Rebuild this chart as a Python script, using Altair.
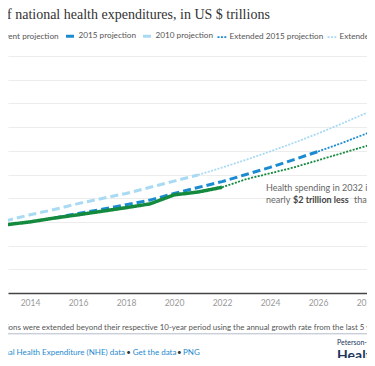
import altair as alt
import pandas as pd

# ---------------- data (US $ trillions) ----------------
series_names = ["Actual", "Current projection", "2015 projection", "2010 projection",
                "Extended 2015 projection", "Extended 2010 projection"]

actual_years = list(range(2010, 2023))
actual_values = [2.60, 2.68, 2.79, 2.88, 3.00, 3.16, 3.30, 3.45, 3.60, 3.76, 4.14, 4.26, 4.46]

current_years = list(range(2022, 2033))
current_values = [4.46, 4.80, 5.05, 5.30, 5.60, 5.90, 6.20, 6.50, 6.90, 7.30, 7.70]

p2015_years = list(range(2015, 2027))
p2015_values = [3.16, 3.36, 3.53, 3.72, 3.92, 4.20, 4.45, 4.70, 5.00, 5.30, 5.63, 5.97]

p2010_years = list(range(2010, 2022))
p2010_values = [2.59, 2.71, 2.85, 3.05, 3.30, 3.52, 3.77, 3.99, 4.20, 4.46, 4.72, 4.98]

ext2015_years = list(range(2026, 2033))
ext2015_values = [5.97, 6.33, 6.72, 7.14, 7.59, 8.06, 8.56]

ext2010_years = list(range(2021, 2033))
ext2010_values = [4.98, 5.29, 5.62, 5.97, 6.34, 6.73, 7.15, 7.59, 8.06, 8.56, 9.09, 9.65]

x_ticks = [2014, 2016, 2018, 2020, 2022, 2024, 2026, 2028]
y_ticks = list(range(0, 11))

title_text = "of national health expenditures, in US $ trillions"
note_text = ("Note: Projections were extended beyond their respective 10-year period using the "
             "annual growth rate from the last 5 years of each projection.")
annot_line1 = "Health spending in 2032 is"
annot_line2a = "nearly"
annot_line2b = "$2 trillion less"
annot_line2c = "than the extended 2010 projection."
source_link = "National Health Expenditure (NHE) data"
get_data = "Get the data"
png_text = "PNG"
bullet = "•"
logo_small = "Peterson-KFF"
logo_big = "Health System Tracker"

# ---------------- build table ----------------
parts = [
    ("Extended 2010 projection", ext2010_years, ext2010_values),
    ("Extended 2015 projection", ext2015_years, ext2015_values),
    ("2010 projection", p2010_years, p2010_values),
    ("2015 projection", p2015_years, p2015_values),
    ("Current projection", current_years, current_values),
    ("Actual", actual_years, actual_values),
]
rows = []
for name, ys, vs in parts:
    for yr, v in zip(ys, vs):
        rows.append({"series": name, "year": yr, "value": v})
df = pd.DataFrame(rows)

GREEN = "#138a3d"
BLUE = "#1a8bd1"
LIGHT = "#a9daf4"
colors = [GREEN, GREEN, BLUE, LIGHT, BLUE, LIGHT]
dashes = [[1, 0], [2, 1.4], [8, 4], [8, 4], [2, 1.4], [2, 1.4]]
widths = [3.5, 1.8, 3, 3, 1.8, 1.8]

LEG_X = -69.5
LEG_Y = -27

lines = alt.Chart(df).mark_line(strokeCap="butt", strokeJoin="round").encode(
    x=alt.X("year:Q",
            scale=alt.Scale(domain=[2013.0833, 2028.0417], nice=False, zero=False),
            axis=alt.Axis(values=x_ticks, format="d", title=None, grid=False, ticks=False,
                          domainColor="#444", domainWidth=1.5, labelFont="Lato",
                          labelFontSize=8.5, labelColor="#999", labelPadding=5,
                          labelFlush=False)),
    y=alt.Y("value:Q",
            scale=alt.Scale(domain=[0, 10], nice=False),
            axis=alt.Axis(values=y_ticks, title=None, grid=True, gridColor="#ececec",
                          gridWidth=1.2, domain=False, ticks=False, labels=False)),
    color=alt.Color("series:N",
                    scale=alt.Scale(domain=series_names, range=colors),
                    legend=alt.Legend(orient="none", legendX=LEG_X, legendY=LEG_Y,
                                      direction="horizontal", title=None,
                                      symbolType="stroke", symbolSize=100,
                                      labelFont="Lato", labelFontSize=8.2,
                                      labelColor="#555", columnPadding=0,
                                      labelOffset=1, padding=0)),
    strokeDash=alt.StrokeDash("series:N",
                              scale=alt.Scale(domain=series_names, range=dashes),
                              legend=alt.Legend(orient="none", legendX=LEG_X, legendY=LEG_Y,
                                                direction="horizontal", title=None)),
    strokeWidth=alt.StrokeWidth("series:N",
                                scale=alt.Scale(type="ordinal", domain=series_names, range=widths),
                                legend=alt.Legend(orient="none", legendX=LEG_X, legendY=LEG_Y,
                                                  direction="horizontal", title=None)),
    detail="series:N",
)


def text_layer(txt, x, y, size=8.5, color="#555", font="Lato", weight="normal", align="left"):
    return alt.Chart(pd.DataFrame({"label": [txt]})).mark_text(
        align=align, baseline="middle", font=font, fontSize=size, color=color,
        fontWeight=weight
    ).encode(text="label:N", x=alt.value(x), y=alt.value(y))


title = text_layer(title_text, -8, -41, size=14, color="#333", font="Liberation Serif")
a1 = text_layer(annot_line1, 258, 132, size=9, color="#666")
a2 = text_layer(annot_line2a, 258, 143.5, size=9, color="#666")
a3 = text_layer(annot_line2b, 285, 143.5, size=9, color="#444", weight="bold")
a4 = text_layer(annot_line2c, 346, 143.5, size=9, color="#666")
note = text_layer(note_text, -47.3, 271.5, size=7.9, color="#555")

sep = alt.Chart(pd.DataFrame({"k": [0]})).mark_rule(color="#b4bccb", strokeWidth=1).encode(
    x=alt.value(-8), x2=alt.value(367), y=alt.value(277.8))

LINK = "#1f8ad0"
SRC_Y = 296.5
s1 = text_layer(source_link, 117, SRC_Y, size=8, color=LINK, align="right")
s2 = text_layer(bullet, 120.5, SRC_Y, size=8, color="#333", align="center")
s3 = text_layer(get_data, 124.7, SRC_Y, size=8, color=LINK)
s4 = text_layer(bullet, 171.3, SRC_Y, size=8, color="#333", align="center")
s5 = text_layer(png_text, 175, SRC_Y, size=8, color=LINK)
l1 = text_layer(logo_small, 329, 287.3, size=7, color="#1b365d")
l2 = text_layer(logo_big, 329, 299.5, size=14, color="#1b365d", weight="bold")

chart = alt.layer(lines, title, a1, a2, a3, a4, note, sep, s1, s2, s3, s4, s5, l1, l2).properties(
    width=359, height=237,
    padding={"left": 0, "top": 48, "right": 0, "bottom": 65},
    autosize=alt.AutoSizeParams(type="none"),
).configure_view(stroke=None)

chart.save("out.html", embed_options={"renderer": "svg", "actions": False})
